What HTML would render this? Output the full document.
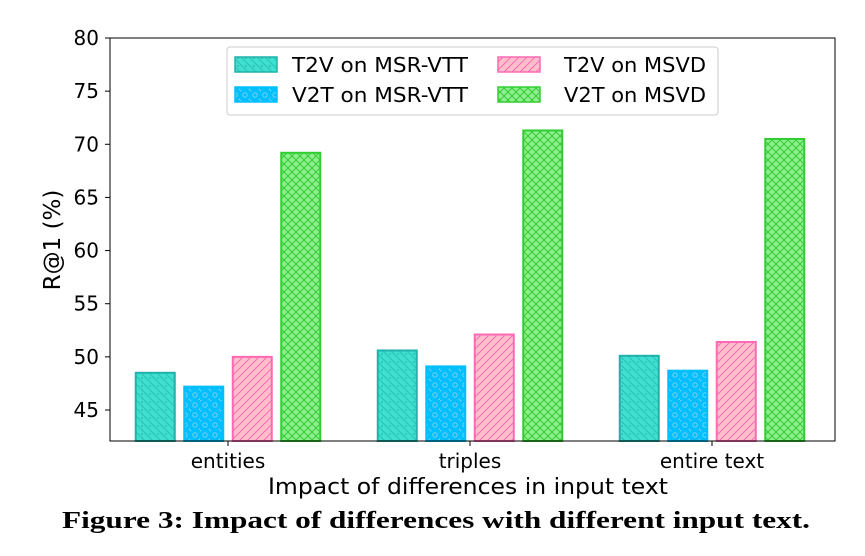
<!DOCTYPE html>
<html><head><meta charset="utf-8"><style>
body{margin:0;background:#fff;width:865px;height:551px;overflow:hidden}
text{font-family:"DejaVu Sans","Liberation Sans",sans-serif}
</style></head><body>
<svg id="chart" width="865" height="551" xmlns="http://www.w3.org/2000/svg">
<defs>
<pattern id="p0" width="8" height="8" patternUnits="userSpaceOnUse"><rect width="8" height="8" fill="#40e0d0"/><path d="M0,0L8,8M-2,6L2,10M6,-2L10,2" stroke="#20b2aa" stroke-width="1" opacity="0.7"/><circle cx="6" cy="2" r="0.9" fill="#20b2aa"/></pattern>
<pattern id="p1" width="10" height="10" patternUnits="userSpaceOnUse"><rect width="10" height="10" fill="#00bfff"/><circle cx="5" cy="5" r="2.2" fill="none" stroke="#7ad0f0" stroke-width="1"/><circle cx="0" cy="0" r="1.5" fill="#7ad0f0"/><circle cx="10" cy="10" r="1.5" fill="#7ad0f0"/></pattern>
<pattern id="p2" width="8" height="8" patternUnits="userSpaceOnUse"><rect width="8" height="8" fill="#ffc0cb"/><path d="M0,8L8,0M-2,2L2,-2M6,10L10,6" stroke="#ff69b4" stroke-width="1"/></pattern>
<pattern id="p3" width="8" height="8" patternUnits="userSpaceOnUse"><rect width="8" height="8" fill="#90ee90"/><path d="M0,8L8,0M0,0L8,8" stroke="#32cd32" stroke-width="1"/></pattern>
</defs>
<g id="plot"></g>
<rect x="110" y="38" width="725" height="403" fill="none" stroke="#000" stroke-width="1"/>
<g>
<rect x="227" y="47" width="491" height="68" rx="3" fill="#fff" stroke="#ccc"/>
<rect x="235" y="57" width="42" height="15" fill="url(#p0)" stroke="#20b2aa" stroke-width="1.5"/><text x="292" y="72" font-size="20" textLength="176" lengthAdjust="spacingAndGlyphs">T2V on MSR-VTT</text>
<rect x="235" y="87" width="42" height="15" fill="url(#p1)" stroke="#00bfff" stroke-width="1.5"/><text x="292" y="102" font-size="20" textLength="176" lengthAdjust="spacingAndGlyphs">V2T on MSR-VTT</text>
<rect x="498" y="57" width="42" height="15" fill="url(#p2)" stroke="#ff69b4" stroke-width="1.5"/><text x="564" y="72" font-size="20" textLength="142" lengthAdjust="spacingAndGlyphs">T2V on MSVD</text>
<rect x="498" y="87" width="42" height="15" fill="url(#p3)" stroke="#32cd32" stroke-width="1.5"/><text x="564" y="102" font-size="20" textLength="142" lengthAdjust="spacingAndGlyphs">V2T on MSVD</text>
</g>
<text transform="translate(60,240) rotate(-90)" text-anchor="middle" font-size="23">R@1 (%)</text>
<text x="268" y="494" font-size="22" textLength="400" lengthAdjust="spacingAndGlyphs">Impact of differences in input text</text>
<text x="62" y="528" font-size="24" font-weight="bold" textLength="748" lengthAdjust="spacingAndGlyphs" style="font-family:'Liberation Serif',serif">Figure 3: Impact of differences with different input text.</text>
</svg>
<script>
const categories=["entities","triples","entire text"];
const seriesNames=["T2V on MSR-VTT","V2T on MSR-VTT","T2V on MSVD","V2T on MSVD"];
const t2vMsrvtt=[48.5,50.6,50.1];
const v2tMsrvtt=[47.2,49.1,48.7];
const t2vMsvd=[50.0,52.1,51.4];
const v2tMsvd=[69.2,71.3,70.5];
const yTicks=[45,50,55,60,65,70,75,80];
const series=[t2vMsrvtt,v2tMsrvtt,t2vMsvd,v2tMsvd];
const strokes=["#20b2aa","#00bfff","#ff69b4","#32cd32"];
const NS="http://www.w3.org/2000/svg";
const g=document.getElementById('plot');
const y=v=>410-(v-45)*(372/35);
const x=i=>228+i*242;
function mk(t,a){const e=document.createElementNS(NS,t);for(const k in a)e.setAttribute(k,a[k]);g.appendChild(e);return e;}
yTicks.forEach(t=>{
 const l=mk('line',{x1:105,x2:110,y1:y(t),y2:y(t),stroke:'#000'});
 
 
 const tx=mk('text',{x:99,y:y(t)+7,'text-anchor':'end','font-size':20});tx.textContent=t;
 
 
});
categories.forEach((c,i)=>{
 mk('line',{x1:x(i),x2:x(i),y1:441,y2:446,stroke:'#000'});
 const tx=mk('text',{x:x(i),y:468,'text-anchor':'middle','font-size':20});tx.textContent=c;
 
 
 series.forEach((s,j)=>{
  const cx=x(i)+(j-1.5)*48.5;
  const top=y(s[i]);
  const r=mk('rect',{x:cx-19.5,y:top,width:39,height:441-top,fill:'url(#p'+j+')',stroke:strokes[j],'stroke-width':2});
  
  
 });
});
</script>
</body></html>
